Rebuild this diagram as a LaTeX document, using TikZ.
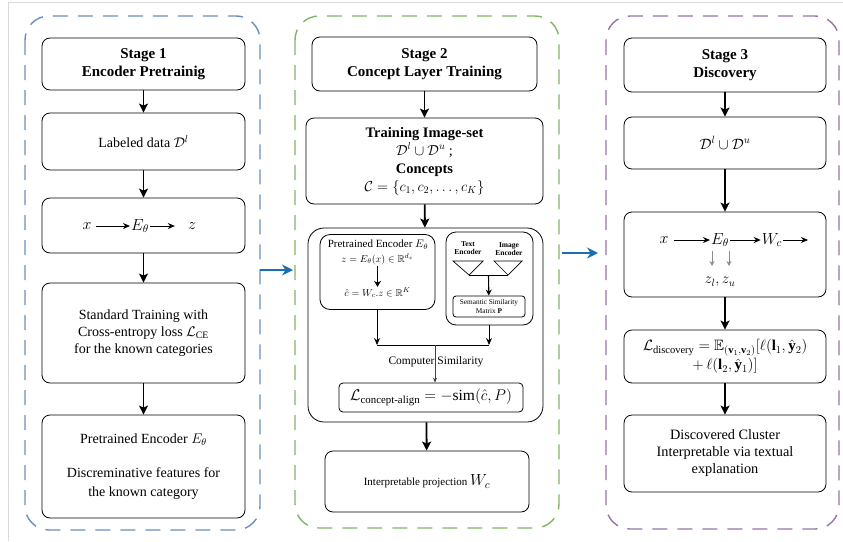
\RequirePackage{fix-cm}
\documentclass[tikz,border=0pt]{standalone}
\usepackage{amsmath,amssymb}
\usepackage{fontspec}
\setmainfont{Liberation Serif}
\usetikzlibrary{arrows.meta}
\definecolor{sblue}{HTML}{6C8EBF}
\definecolor{sgreen}{HTML}{82B366}
\definecolor{spurple}{HTML}{9673A6}
\definecolor{flowblue}{HTML}{1A6FAF}
\tikzset{
  bx/.style={draw, rounded corners=8pt, line width=0.8pt, align=center, inner sep=2pt},
  stagebox/.style={rounded corners=24pt, line width=1.4pt, dash pattern=on 15pt off 10pt},
  flow/.style={line width=1.8pt, -{Stealth[length=9pt,width=9pt,inset=2pt]}},
  thin flow/.style={line width=0.8pt, -{Stealth[length=7pt,width=6pt]}},
  small flow/.style={line width=0.6pt, -{Stealth[length=5pt,width=4pt]}},
  gray flow/.style={line width=0.9pt, black!45, -{Stealth[length=5pt,width=5pt]}},
  body/.style={font=\fontsize{14}{17}\selectfont},
  ttl/.style={font=\fontsize{15}{18.5}\selectfont},
  lbl/.style={inner sep=1pt},
}
\begin{document}
\begin{tikzpicture}[x=1pt,y=-1pt]
\useasboundingbox (0,0) rectangle (843,541);
% light frame
\draw[black!15, line width=0.6pt] (843,2) -- (8,2) -- (8,541);
% stage borders
\draw[stagebox, sblue] (25,16) rectangle (260,530);
\draw[stagebox, sgreen] (295,16) rectangle (559,528);
\draw[stagebox, spurple] (606,16) rectangle (839,529);

% ---------- Stage 1 ----------
\node[bx, ttl, minimum width=203pt, minimum height=52pt] (s1t) at (143.5,64) {\textbf{Stage 1}\\\textbf{Encoder Pretrainig}};
\node[bx, body, minimum width=203pt, minimum height=57pt] (s1a) at (143.5,141.5) {Labeled data $\mathcal{D}^l$};
\node[bx, minimum width=203pt, minimum height=55pt] (s1b) at (143.5,225.5) {};
\node[bx, body, minimum width=203pt, minimum height=100pt] (s1c) at (143.5,333) {Standard Training with\\Cross-entropy loss $\mathcal{L}_{\mathrm{CE}}$\\for the known categories};
\node[bx, body, minimum width=203pt, minimum height=103pt, font=\fontsize{14}{19}\selectfont] (s1d) at (143.5,466.5) {Pretrained Encoder $E_\theta$\\[15pt]Discreminative features for\\the known category};
\node[lbl, font=\fontsize{16}{16}\selectfont] (s1x) at (87,226) {$x$};
\node[lbl, font=\fontsize{16}{16}\selectfont] (s1e) at (140,226) {$E_\theta$};
\node[lbl, font=\fontsize{16}{16}\selectfont] (s1z) at (192,226) {$z$};
\draw[thin flow, shorten <=3pt] (s1x) -- (s1e);
\draw[thin flow] (s1e) -- ([xshift=-12pt]s1z.west);
\draw[flow] (s1t) -- (s1a);
\draw[flow] (s1a) -- (s1b);
\draw[flow] (s1b) -- (s1c);
\draw[flow] (s1c) -- (s1d);

% ---------- Stage 2 ----------
\node[bx, ttl, minimum width=225pt, minimum height=54pt] (s2t) at (424.5,64) {\textbf{Stage 2}\\\textbf{Concept Layer Training}};
\node[bx, minimum width=237pt, minimum height=86pt, font=\fontsize{14.5}{18}\selectfont] (s2a) at (424.5,161) {\textbf{Training Image-set}\\$\mathcal{D}^l\cup\mathcal{D}^u$ ;\\\textbf{Concepts}\\$\mathcal{C}=\{c_1,c_2,\ldots,c_K\}$};
\node[bx, rounded corners=16pt, minimum width=235pt, minimum height=194pt] (s2big) at (425.5,325) {};
\node[bx, rounded corners=10pt, minimum width=115pt, minimum height=75pt] (s2l) at (377.5,272) {};
\node[lbl, font=\fontsize{11}{12}\selectfont] (pe) at (378,245) {Pretrained Encoder $E_\theta$};
\node[lbl, font=\fontsize{10}{11}\selectfont] (zeq) at (377.5,259) {$z=E_\theta(x)\in\mathbb{R}^{d_z}$};
\node[lbl, font=\fontsize{10}{11}\selectfont] (ceq) at (377.5,293) {$\hat{c}=W_c.z\in\mathbb{R}^K$};
\draw[line width=1.4pt, -{Stealth[length=6pt,width=7pt]}] (zeq) -- (ceq);
\node[bx, rounded corners=10pt, minimum width=87pt, minimum height=93pt] (s2r) at (489.5,278.5) {};
\node[lbl, align=center, font=\fontsize{7.5}{8.5}\selectfont] (te) at (468,248) {\textbf{Text}\\\textbf{Encoder}};
\node[lbl, align=center, font=\fontsize{7.5}{8.5}\selectfont] (ie) at (509,249) {\textbf{Image}\\\textbf{Encoder}};
\coordinate (t1a) at (453,261); \coordinate (t1b) at (483,261); \coordinate (t1c) at (469,275);
\coordinate (t2a) at (494,261); \coordinate (t2b) at (522,261); \coordinate (t2c) at (508,275);
\draw[line width=0.7pt] (t1a) -- (t1b) -- (t1c) -- cycle;
\draw[line width=0.7pt] (t2a) -- (t2b) -- (t2c) -- cycle;
\draw[line width=0.7pt] (t1c) -- (t2c);
\coordinate (tm) at (488.5,275);
\node[bx, rounded corners=3pt, align=center, font=\fontsize{7.3}{8.5}\selectfont, minimum width=72pt, minimum height=21pt, inner sep=1pt] (ssm) at (489,306.5) {Semantic Similarity\\Matrix $\mathbf{P}$};
\draw[line width=1.1pt, -{Stealth[length=6pt,width=6pt]}] (tm) -- (ssm);
\coordinate (jl) at (377,345);
\coordinate (jr) at (489,345);
\coordinate (jm) at (435,345);
\draw[thin flow] (s2l.south -| jl) -- (jl);
\draw[thin flow] (s2r.south -| jr) -- (jr);
\draw[line width=0.8pt] (jl) -- (jr);
\node[bx, rounded corners=4pt, minimum width=184pt, minimum height=29pt, font=\fontsize{15.5}{17}\selectfont, inner sep=1pt] (loss) at (431,397.5) {$\mathcal{L}_{\text{concept-align}}=-\mathrm{sim}(\hat{c},P)$};
\draw[small flow, black!75] (jm) -- (loss.north -| jm);
\node[lbl, font=\fontsize{11.5}{13}\selectfont] (cs) at (436,362) {Computer Similarity};
\node[bx, minimum width=204pt, minimum height=61pt, font=\fontsize{11}{13}\selectfont] (s2d) at (427,481.5) {Interpretable projection {\fontsize{16}{16}\selectfont$W_c$}};
\draw[flow] (s2t) -- (s2a);
\draw[flow] (s2a) -- (s2big);
\draw[flow] (s2big) -- (s2d);

% ---------- Stage 3 ----------
\node[bx, ttl, minimum width=202pt, minimum height=54pt] (s3t) at (725,65) {\textbf{Stage 3}\\\textbf{Discovery}};
\node[bx, minimum width=202pt, minimum height=52pt, font=\fontsize{15}{18}\selectfont] (s3a) at (725,143) {$\mathcal{D}^l\cup\mathcal{D}^u$};
\node[bx, minimum width=202pt, minimum height=85pt] (s3b) at (725,254.5) {};
\node[lbl, font=\fontsize{16}{16}\selectfont] (s3x) at (664,240) {$x$};
\node[lbl, font=\fontsize{16}{16}\selectfont] (s3e) at (720,240) {$E_\theta$};
\node[lbl, font=\fontsize{16}{16}\selectfont] (s3w) at (772,240) {$W_c$};
\coordinate (s3out) at (808,240);
\draw[thin flow, shorten <=4pt] (s3x) -- (s3e);
\draw[thin flow] (s3e) -- (s3w);
\draw[thin flow] (s3w) -- (s3out);
\coordinate (g1a) at (712,251); \coordinate (g1b) at (712,266);
\coordinate (g2a) at (729,251); \coordinate (g2b) at (729,266);
\draw[gray flow] (g1a) -- (g1b);
\draw[gray flow] (g2a) -- (g2b);
\node[lbl, font=\fontsize{15}{16}\selectfont] (zlu) at (720,282) {$z_l, z_u$};
\node[bx, minimum width=202pt, minimum height=53pt, font=\fontsize{15}{19}\selectfont, inner sep=1pt] (s3c) at (725,356.5) {$\mathcal{L}_{\text{discovery}}=\mathbb{E}_{(\mathbf{v}_1,\mathbf{v}_2)}[\ell(\mathbf{l}_1,\hat{\mathbf{y}}_2)$\\$+\,\ell(\mathbf{l}_2,\hat{\mathbf{y}}_1)]$};
\node[bx, minimum width=202pt, minimum height=77pt, font=\fontsize{14.3}{17}\selectfont] (s3d) at (725,453.5) {Discovered Cluster\\Interpretable via textual\\explanation};
\draw[flow] (s3t) -- (s3a);
\draw[flow] (s3a) -- (s3b);
\draw[flow] (s3b) -- (s3c);
\draw[flow] (s3c) -- (s3d);

% ---------- transitions ----------
\coordinate (b1) at (260,270);
\coordinate (b2) at (293,270);
\coordinate (c1) at (562,253);
\coordinate (c2) at (598,253);
\draw[line width=2.6pt, flowblue, -{Stealth[length=11pt,width=11pt]}] (b1) -- (b2);
\draw[line width=2.6pt, flowblue, -{Stealth[length=11pt,width=11pt]}] (c1) -- (c2);
\end{tikzpicture}
\end{document}
